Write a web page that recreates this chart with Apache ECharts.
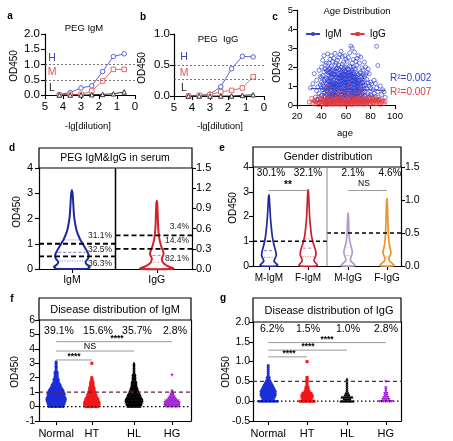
<!DOCTYPE html>
<html><head><meta charset="utf-8">
<script src="https://cdn.jsdelivr.net/npm/echarts@6/dist/echarts.min.js"></script>
<style>html,body{margin:0;padding:0;background:#fff}#c{width:453px;height:441px}</style>
</head><body><div id="c"></div>
<script>
// ---------- DATA ----------
const dilution = [4.2, 3.6, 3.0, 2.4, 1.8, 1.2, 0.6];
const igmH = [0.02, 0.08, 0.23, 0.30, 0.77, 1.26, 1.35];
const igmM = [0.00, 0.02, 0.02, 0.13, 0.46, 0.84, 0.84];
const igmL = [0.00, 0.00, 0.00, 0.01, 0.02, 0.04, 0.10];
const iggH = [0.00, 0.01, 0.03, 0.15, 0.44, 0.64, 0.63];
const iggM = [0.00, 0.01, 0.02, 0.07, 0.09, 0.13, 0.31];
const iggL = [0.00, 0.00, 0.00, 0.00, 0.00, 0.01, 0.02];
const igmCut = [1.0, 0.5];
const iggCut = [0.5, 0.27];

const ageIgM = [[31,0.9],[33,1.12],[34,1.65],[35,0.42],[36,0.75],[36,1.3],[37,0.28],[38,1.82],[38,0.6],[39,1.05],[39,0.35],[37,0.95],[35,0.18],[39,1.5],[38,0.12],
[40,0.5],[40,1.2],[40,2.0],[41,0.3],[41,0.8],[41,1.55],[42,0.65],[42,1.0],[42,2.6],[42,0.15],[43,0.4],[43,1.35],[43,1.9],[44,0.55],[44,0.9],[44,2.2],[44,0.22],[45,1.15],[45,0.7],[45,2.69],[45,1.6],[45,0.35],[41,1.1],[43,0.85],[44,1.4],[42,1.75],[40,0.9],[43,0.1],[45,0.05],[41,2.35],[44,1.8],[42,0.45],[40,1.45],[43,2.1],[45,1.0],
[46,0.6],[46,1.25],[46,1.9],[46,0.3],[47,0.45],[47,1.05],[47,1.7],[47,2.4],[48,0.8],[48,1.45],[48,0.2],[48,2.05],[49,0.55],[49,1.2],[49,1.85],[49,0.95],[50,0.4],[50,1.05],[50,1.6],[50,2.45],[50,0.7],[46,0.85],[47,1.4],[48,1.1],[49,0.25],[50,1.3],[46,2.2],[47,0.75],[48,0.5],[49,1.5],[50,0.15],[46,1.55],[47,0.1],[48,1.75],[49,2.3],[50,0.9],[47,1.95],[48,2.6],[49,0.65],[46,0.08],
[51,0.5],[51,1.15],[51,1.8],[51,2.72],[52,0.35],[52,0.95],[52,1.5],[52,2.2],[53,0.6],[53,1.3],[53,1.95],[53,0.2],[54,0.75],[54,1.05],[54,1.65],[54,2.5],[55,0.45],[55,1.2],[55,1.85],[55,0.9],[51,0.8],[52,1.25],[53,1.0],[54,0.3],[55,1.55],[51,1.45],[52,0.65],[53,2.35],[54,1.4],[55,0.12],[51,2.1],[52,1.75],[53,0.4],[54,1.9],[55,2.65],[52,0.08],[53,1.6],[54,0.55],[55,0.7],[51,0.25],
[56,0.55],[56,1.1],[56,1.7],[56,2.83],[57,0.4],[57,0.95],[57,1.45],[57,2.15],[58,0.65],[58,1.25],[58,1.9],[58,0.25],[59,0.8],[59,1.35],[59,2.6],[59,1.05],[60,0.5],[60,1.15],[60,1.75],[60,2.4],[56,0.85],[57,1.3],[58,1.0],[59,0.35],[60,0.9],[56,1.45],[57,0.7],[58,2.25],[59,1.6],[60,0.15],[56,2.0],[57,1.8],[58,0.45],[59,1.95],[60,1.4],[56,0.2],[57,2.55],[58,1.55],[59,0.6],[60,2.0],
[61,0.45],[61,1.05],[61,1.65],[61,2.3],[62,0.6],[62,1.2],[62,1.85],[62,0.3],[63,0.75],[63,1.4],[63,2.05],[63,2.75],[64,0.5],[64,1.0],[64,1.6],[64,3.1],[65,0.4],[65,0.95],[65,1.5],[65,3.0],[61,0.8],[62,0.95],[63,1.15],[64,0.25],[65,1.25],[61,1.35],[62,1.55],[63,0.5],[64,1.3],[65,2.2],[61,1.9],[62,2.5],[63,0.2],[64,2.0],[65,0.65],[62,0.1],[63,1.75],[64,0.8],[65,1.8],[61,0.15],
[66,0.5],[66,1.1],[66,1.7],[66,2.4],[67,0.35],[67,0.9],[67,1.45],[67,2.78],[68,0.6],[68,1.2],[68,1.9],[68,0.2],[69,0.7],[69,1.3],[69,2.1],[69,1.0],[70,0.45],[70,1.05],[70,1.6],[70,2.6],[66,0.85],[67,1.25],[68,1.5],[69,0.4],[70,0.8],[66,1.35],[67,0.6],[68,2.3],[69,1.65],[70,0.15],[66,2.0],[67,1.9],[68,0.95],[69,2.45],[70,1.3],
[71,0.5],[71,1.1],[71,1.7],[72,0.3],[72,0.85],[72,1.45],[72,2.52],[73,0.6],[73,1.2],[73,1.95],[74,0.4],[74,1.0],[74,1.6],[75,0.7],[75,1.3],[75,2.26],[71,2.2],[72,1.15],[73,0.25],[74,1.85],[75,0.5],[71,0.8],[73,1.5],[74,0.15],[75,1.0],
[76,0.45],[76,1.05],[76,1.6],[77,0.3],[77,0.85],[77,1.35],[78,0.6],[78,1.15],[78,1.9],[79,0.4],[79,1.0],[79,1.65],[80,0.55],[80,1.2],[76,2.0],[78,0.2],[80,0.9],[77,1.7],
[81,0.5],[81,1.1],[82,0.35],[82,0.8],[83,1.3],[83,0.6],[84,1.13],[84,0.45],[85,3.09],[85,0.9],[86,2.08],[86,0.7],[87,0.3],[88,1.0],[89,0.55],[90,0.8],[91,0.69],[92,0.4],
[42,1.3],[43,0.65],[44,1.1],[45,1.85],[46,1.05],[46,0.45],[47,1.25],[47,0.55],[48,1.3],[48,0.95],[49,0.4],[49,1.65],[50,1.8],[50,0.55],[51,0.95],[51,1.6],[52,1.05],[52,0.5],[52,1.9],[53,0.85],[53,1.45],[54,0.9],[54,1.25],[54,2.1],[55,1.05],[55,0.3],[55,1.4],[56,0.7],[56,1.25],[57,0.55],[57,1.1],[57,1.6],[58,0.85],[58,1.4],[58,1.7],[59,0.5],[59,1.2],[59,1.8],[60,0.7],[60,1.3],[60,1.0],[61,0.6],[61,1.2],[61,1.5],[62,0.8],[62,1.4],[62,1.05],[63,0.35],[63,0.95],[63,1.55],[64,0.65],[64,1.15],[64,1.45],[65,0.55],[65,1.1],[65,1.65],[66,0.65],[66,1.25],[66,0.3],[67,0.75],[67,1.1],[67,1.6],[68,0.45],[68,0.8],[68,1.35],[69,0.55],[69,1.15],[69,1.45],[70,0.6],[70,1.2],[71,0.65],[71,1.3],[72,0.55],[72,1.0],[73,0.8],[73,1.35],[74,0.65],[74,1.2],[75,0.85],[75,1.5],[44,0.75],[45,1.3],[46,1.7],[47,0.9],[48,1.6],[49,1.05],[50,1.15],[51,0.65],[53,1.15],[56,1.55],[58,1.15],[60,1.6],[62,1.7],[64,1.75],[66,1.5],[68,1.05],[70,0.95],[72,1.7]];

const ageIgG = [[30,0.15],[32,0.35],[33,0.08],[34,0.22],[35,0.05],[36,0.3],[37,0.12],[38,0.45],[38,0.02],[39,0.2],
[40,0.1],[40,0.32],[41,0.05],[41,0.18],[42,0.25],[42,0.4],[43,0.08],[43,0.15],[44,0.3],[44,0.02],[45,0.2],[45,0.55],[45,0.1],
[46,0.05],[46,0.28],[47,0.15],[47,0.38],[48,0.1],[48,0.22],[49,0.03],[49,0.3],[50,0.18],[50,0.45],[50,0.07],
[51,0.12],[51,0.26],[52,0.04],[52,0.2],[53,0.35],[53,0.1],[54,0.15],[54,0.5],[55,0.06],[55,0.25],[55,0.02],
[56,0.18],[56,0.33],[57,0.08],[57,0.22],[58,0.12],[58,0.42],[59,0.03],[59,0.27],[60,0.15],[60,0.6],[60,0.05],
[61,0.2],[61,0.1],[62,0.32],[62,0.04],[63,0.17],[63,0.48],[64,0.09],[64,0.25],[65,0.02],[65,0.35],[65,0.14],
[66,0.22],[66,0.06],[67,0.3],[67,0.12],[68,0.18],[68,0.55],[69,0.04],[69,0.28],[70,0.1],[70,0.38],[70,0.2],
[71,0.05],[71,0.25],[72,0.15],[72,0.45],[73,0.08],[73,0.3],[74,0.2],[74,0.03],[75,0.12],[75,0.35],
[76,0.18],[76,0.06],[77,0.28],[77,0.1],[78,0.22],[78,0.5],[79,0.04],[79,0.15],[80,0.3],[80,0.08],
[81,0.2],[82,0.12],[82,0.4],[83,0.05],[83,0.25],[84,0.15],[85,0.32],[85,0.07],[86,0.2],[87,0.1],[88,0.28],[88,0.03],[89,0.15],[90,0.22],[91,0.08],[92,0.18],
[44,0.12],[47,0.06],[49,0.16],[52,0.3],[54,0.08],[57,0.14],[59,0.2],[62,0.15],[64,0.4],[66,0.16],[68,0.08],[71,0.14],[73,0.2],[75,0.05],[77,0.16],[79,0.35],[84,0.26],[86,0.42],[46,0.9],[63,1.0],[55,0.75],[72,0.8]];
const fitIgM = [[31,0.87],[92,0.77]];
const fitIgG = [[31,0.20],[92,0.26]];
const r2Labels = ['R\u00b2=0.002', 'R\u00b2=0.007'];

// d: violins (value, relative width)
const dCats = ['IgM', 'IgG'];
const dIgMProfile = [[0,0.78],[0.02,0.89],[0.09,1.0],[0.18,0.82],[0.29,0.76],[0.42,0.9],[0.55,0.93],[0.7,0.84],[0.95,0.64],[1.2,0.44],[1.5,0.27],[1.8,0.18],[2.1,0.12],[2.6,0.075],[3.0,0.04],[3.12,0]];
const dIgGProfile = [[0,0.89],[0.01,0.92],[0.03,0.72],[0.06,0.5],[0.1,0.33],[0.16,0.28],[0.22,0.38],[0.27,0.34],[0.35,0.23],[0.45,0.14],[0.6,0.08],[0.8,0.05],[0.98,0.025],[1.01,0]];
const dIgMQuart = [0.32, 0.66, 1.15];
const dIgGQuart = [0.1, 0.2, 0.3];
const dIgMCut = [1.0, 0.5];
const dIgGCut = [0.5, 0.3];
const dIgMPct = ['31.1%', '32.5%', '36.3%'];
const dIgGPct = ['3.4%', '14.4%', '82.1%'];

// e: gender violins
const eCats = ['M-IgM', 'F-IgM', 'M-IgG', 'F-IgG'];
const eMIgM = [[0,0.85],[0.04,0.95],[0.1,0.78],[0.2,0.55],[0.3,0.66],[0.45,0.8],[0.65,0.7],[0.9,0.52],[1.2,0.37],[1.6,0.25],[2.0,0.16],[2.4,0.1],[2.8,0.04],[2.87,0]];
const eFIgM = [[0,0.9],[0.04,1.0],[0.1,0.86],[0.2,0.64],[0.3,0.7],[0.45,0.85],[0.65,0.8],[0.9,0.58],[1.2,0.38],[1.6,0.25],[2.0,0.16],[2.5,0.1],[3.0,0.04],[3.08,0]];
const eMIgG = [[0,0.68],[0.01,0.76],[0.03,0.65],[0.06,0.38],[0.1,0.24],[0.14,0.33],[0.2,0.46],[0.27,0.38],[0.35,0.22],[0.45,0.13],[0.6,0.08],[0.78,0.03],[0.8,0]];
const eFIgG = [[0,0.68],[0.01,0.76],[0.03,0.65],[0.06,0.38],[0.1,0.2],[0.14,0.27],[0.19,0.43],[0.25,0.38],[0.33,0.25],[0.45,0.17],[0.6,0.12],[0.8,0.08],[1.0,0.03],[1.02,0]];
const eQuart = [[0.35,0.62,1.0],[0.38,0.72,1.1],[0.06,0.16,0.28],[0.05,0.14,0.27]];
const ePct = ['30.1%', '32.1%', '2.1%', '4.6%'];
const eIgMCut = 1.0, eIgGCut = 0.5;
const eSig = ['**', 'NS'];

// f, g: beeswarm counts per bin
const diseaseCats = ['Normal', 'HT', 'HL', 'HG'];
const fStep = 0.1;
const fNormal = [8,8,9,9,10,10,10,9,9,9,8,8,7,6,5,5,4,3,3,3,2,2,2,2,2,1,1,1,1,1,1,1];
const fHT = [7,8,8,8,7,7,6,5,5,4,4,3,3,3,2,2,2,2,1,1,1,0,0,0,0,0,0,0,0,0,1];
const fHL = [7,8,8,9,9,9,8,7,7,6,5,5,4,4,3,3,3,3,2,2,2,2,2,1,1,1,1,1,1,1,1];
const fHG = [7,8,8,8,7,5,4,3,2,2,1,1,0,0,0,0,0,0,0,0,0,0,1];
const fPct = ['39.1%', '15.6%', '35.7%', '2.8%'];
const fSig = ['****', 'NS', '****'];
const gStep = 0.05;
const gNormal = [10,6,7,8,8,8,7,6,5,4,3,2,2,1,1,1,1,1,1];
const gHT = [8,5,6,6,5,3,2,2,1,1,1,1,1,0,0,0,0,0,0,0,1];
const gHL = [7,4,6,3,2,1,1,1,1,1,1,1];
const gHG = [7,4,3,2,2,1,1,1,0,0,1];
const gPct = ['6.2%', '1.5%', '1.0%', '2.8%'];
const gSig = ['****', '****', '****'];

// ---------- LAYOUT ----------
const FONT = 'Liberation Sans, Arial, sans-serif';
const dX = [0.43, 1.54];
const eX = [0.43, 1.49, 2.57, 3.62];
const fX = [0.45, 1.39, 2.5, 3.5];
const gX = [0.41, 1.46, 2.54, 3.59];

function ax(grid, min, max, interval, fs, margin, fmt, extra) {
  return Object.assign({
    type: 'value', gridIndex: grid, min, max, interval,
    axisLine: { show: true, onZero: false, lineStyle: { color: '#000', width: 1.2 } },
    axisTick: { show: true, length: 4, lineStyle: { color: '#000', width: 1.1 } },
    splitLine: { show: false },
    axisLabel: { color: '#000', fontFamily: FONT, fontSize: fs, margin, formatter: fmt }
  }, extra || {});
}
function catAx(grid, pos, names, fs, margin) {
  return ax(grid, 0, pos.length === 2 ? 2 : 4, 1, fs, margin, null, {
    axisTick: { show: true, length: 4, customValues: pos, lineStyle: { color: '#000', width: 1.1 } },
    axisLabel: { color: '#000', fontFamily: FONT, fontSize: fs, margin, customValues: pos,
      formatter: v => { let k = 0, b = 1e9; pos.forEach((p, i) => { if (Math.abs(p - v) < b) { b = Math.abs(p - v); k = i; } }); return names[k]; } }
  });
}
const f1 = v => v.toFixed(1);
const f0 = v => String(Math.round(v));
function border(grid, min, max) {
  return { type: 'value', gridIndex: grid, min, max, position: 'right',
    axisLine: { show: true, onZero: false, lineStyle: { color: '#000', width: 1.2 } },
    axisTick: { show: false }, axisLabel: { show: false }, splitLine: { show: false } };
}

function interp(prof, v) {
  for (let i = 0; i < prof.length - 1; i++) {
    if (v >= prof[i][0] && v <= prof[i + 1][0]) {
      const t = (v - prof[i][0]) / (prof[i + 1][0] - prof[i][0]);
      return prof[i][1] + t * (prof[i + 1][1] - prof[i][1]);
    }
  }
  return 0;
}
function violin(xi, yi, pos, profile, quart, color, maxHW, lw) {
  const prof = profile.slice().sort((a, b) => a[0] - b[0]);
  return {
    type: 'custom', xAxisIndex: xi, yAxisIndex: yi, silent: true, clip: false, z: 4,
    data: [[pos, 0]], encode: { x: 0, y: 1 },
    renderItem: function (params, api) {
      const right = [], left = [];
      prof.forEach(p => { const c = api.coord([pos, p[0]]); right.push([c[0] + p[1] * maxHW, c[1]]); });
      for (let i = prof.length - 1; i >= 0; i--) { const c = api.coord([pos, prof[i][0]]); left.push([c[0] - prof[i][1] * maxHW, c[1]]); }
      const kids = [{ type: 'polygon', shape: { points: right.concat(left), smooth: 0.2 },
        style: { fill: 'rgba(255,255,255,0)', stroke: color, lineWidth: lw, lineJoin: 'round' } }];
      quart.forEach((q, k) => {
        const w = interp(prof, q) * maxHW - lw; const c = api.coord([pos, q]);
        kids.push({ type: 'line', shape: { x1: c[0] - w, y1: c[1], x2: c[0] + w, y2: c[1] },
          style: { stroke: color, lineWidth: 0.8, lineDash: k === 1 ? [3, 2] : [1, 1.5], opacity: 0.75 } });
      });
      return { type: 'group', children: kids };
    }
  };
}
function marker(shape, x, y, r, color) {
  if (shape === 'rect') return { type: 'rect', shape: { x: x - r, y: y - r, width: 2 * r, height: 2 * r }, style: { fill: color } };
  if (shape === 'tri') return { type: 'polygon', shape: { points: [[x, y - r * 1.2], [x + r * 1.1, y + r * 0.8], [x - r * 1.1, y + r * 0.8]] }, style: { fill: color } };
  if (shape === 'itri') return { type: 'polygon', shape: { points: [[x, y + r * 1.2], [x + r * 1.1, y - r * 0.8], [x - r * 1.1, y - r * 0.8]] }, style: { fill: color } };
  return { type: 'circle', shape: { cx: x, cy: y, r }, style: { fill: color } };
}
function swarm(xi, yi, pos, step, counts, color, shape) {
  const data = counts.map((n, i) => [pos, +(i * step).toFixed(3), n]).filter(d => d[2] > 0);
  return {
    type: 'custom', xAxisIndex: xi, yAxisIndex: yi, silent: true, clip: false, z: 3,
    data, encode: { x: 0, y: 1 },
    renderItem: function (params, api) {
      const n = api.value(2); const c = api.coord([api.value(0), api.value(1)]);
      const kids = [];
      for (let i = 0; i < n; i++) kids.push(marker(shape, c[0] + (i - (n - 1) / 2) * 2, c[1], 1.5, color));
      return { type: 'group', children: kids };
    }
  };
}
function seg(xi, yi, pts, color, width, dash, z) {
  return { type: 'line', xAxisIndex: xi, yAxisIndex: yi, data: pts, symbol: 'none', silent: true, z: z || 5,
    lineStyle: { color, width, type: dash || 'solid' } };
}
function curve(xi, yi, ys, color, sym) {
  return { type: 'line', xAxisIndex: xi, yAxisIndex: yi, data: dilution.map((d, i) => [d, ys[i]]),
    symbol: sym, symbolSize: 4.5, showSymbol: true, silent: true,
    lineStyle: { color, width: 1 }, itemStyle: { color: '#fff', borderColor: color, borderWidth: 1 } };
}
function cutLines(vals) {
  return { silent: true, symbol: 'none', label: { show: false },
    lineStyle: { color: '#555', width: 0.8, type: [2, 2] }, data: vals.map(v => ({ yAxis: v })) };
}
function T(x, y, text, o) {
  o = o || {};
  return { type: 'text', x, y, rotation: o.rot || 0, silent: true, z: 10,
    style: { text, fill: o.color || '#000', fontFamily: FONT, fontSize: o.fs || 10, fontWeight: o.bold ? 'bold' : 'normal',
      align: o.align || 'center', verticalAlign: 'middle', textAlign: o.align || 'center', textVerticalAlign: 'middle' } };
}
function box(x, y, w, h) {
  return { type: 'rect', silent: true, shape: { x, y, width: w, height: h }, style: { fill: 'none', stroke: '#000', lineWidth: 1.2 } };
}

const blue = '#1c2a9e', red = '#d4202a';
const hC = '#5b64c8', mC = '#e2686a', lC = '#333';
const series = [];
// a
const sa = curve(0, 0, igmH, hC, 'circle'); sa.markLine = cutLines(igmCut); series.push(sa);
series.push(curve(0, 0, igmM, mC, 'rect'), curve(0, 0, igmL, lC, 'triangle'));
// b
const sb = curve(1, 1, iggH, hC, 'circle'); sb.markLine = cutLines(iggCut); series.push(sb);
series.push(curve(1, 1, iggM, mC, 'rect'), curve(1, 1, iggL, lC, 'triangle'));
// c
series.push({ type: 'scatter', name: 'IgM pts', xAxisIndex: 2, yAxisIndex: 2, data: ageIgM, symbol: 'circle', symbolSize: 4, silent: true,
  itemStyle: { color: 'rgba(0,0,0,0)', borderColor: '#2a3bd6', borderWidth: 0.8 } });
series.push({ type: 'scatter', name: 'IgG pts', xAxisIndex: 2, yAxisIndex: 2, data: ageIgG, symbol: 'rect', symbolSize: 3.5, silent: true,
  itemStyle: { color: 'rgba(0,0,0,0)', borderColor: '#e8383c', borderWidth: 0.8 } });
series.push({ type: 'line', name: 'IgM', xAxisIndex: 2, yAxisIndex: 2, data: fitIgM, symbol: 'circle', symbolSize: 4, showSymbol: false, silent: true,
  lineStyle: { color: '#3344c0', width: 1 }, itemStyle: { color: '#3344c0' } });
series.push({ type: 'line', name: 'IgG', xAxisIndex: 2, yAxisIndex: 2, data: fitIgG, symbol: 'rect', symbolSize: 4, showSymbol: false, silent: true,
  lineStyle: { color: '#e03a3a', width: 1 }, itemStyle: { color: '#e03a3a' } });
// d
series.push(violin(3, 3, dX[0], dIgMProfile, dIgMQuart, blue, 18, 2));
series.push(violin(3, 4, dX[1], dIgGProfile, dIgGQuart, red, 18, 2));
dIgMCut.forEach(v => series.push(seg(3, 3, [[0, v], [1, v]], '#000', 1.8, [5, 3])));
dIgGCut.forEach(v => series.push(seg(3, 4, [[1, v], [2, v]], '#000', 1.8, [5, 3])));
series.push(seg(3, 3, [[1, 0], [1, 4]], '#000', 1.5));
// e
series.push(violin(4, 5, eX[0], eMIgM, eQuart[0], blue, 9.2, 1.7));
series.push(violin(4, 5, eX[1], eFIgM, eQuart[1], '#cc1f2f', 9.2, 1.7));
series.push(violin(4, 6, eX[2], eMIgG, eQuart[2], '#b49bcc', 9.2, 1.7));
series.push(violin(4, 6, eX[3], eFIgG, eQuart[3], '#e8952e', 9.2, 1.7));
series.push(seg(4, 5, [[0, eIgMCut], [2, eIgMCut]], '#000', 1.4, [4, 3]));
series.push(seg(4, 6, [[2, eIgGCut], [4, eIgGCut]], '#000', 1.4, [4, 3]));
series.push(seg(4, 5, [[2, 0], [2, 4]], '#888', 1));
series.push(seg(4, 5, [[eX[0], 3.05], [eX[1], 3.05]], '#999', 1));
series.push(seg(4, 5, [[eX[2], 3.05], [eX[3], 3.05]], '#999', 1));
// f
const swarmColors = ['#1a2fd8', '#f01818', '#000', '#a626d6'];
const swarmShapes = ['circle', 'rect', 'tri', 'itri'];
[fNormal, fHT, fHL, fHG].forEach((c, i) => series.push(swarm(5, 7, fX[i], fStep, c, swarmColors[i], swarmShapes[i])));
series.push(seg(5, 7, [[0, 1], [4, 1]], '#6e1f45', 1.2, [4, 3], 6));
series.push(seg(5, 7, [[0, 0], [4, 0]], '#000', 1.2, [1.5, 2.5], 6));
series.push(seg(5, 7, [[fX[0], 4.5], [fX[3], 4.5]], '#999', 1));
series.push(seg(5, 7, [[fX[0], 3.85], [fX[2], 3.85]], '#999', 1));
series.push(seg(5, 7, [[fX[0], 3.23], [fX[1], 3.23]], '#999', 1));
// g
[gNormal, gHT, gHL, gHG].forEach((c, i) => series.push(swarm(6, 9, gX[i], gStep, c, swarmColors[i], swarmShapes[i])));
series.push(seg(6, 9, [[0, 0.5], [4, 0.5]], '#6e1f45', 1.2, [4, 3], 6));
series.push(seg(6, 9, [[0, 0], [4, 0]], '#000', 1.2, [1.5, 2.5], 6));
series.push(seg(6, 9, [[gX[0], 1.48], [gX[3], 1.48]], '#999', 1));
series.push(seg(6, 9, [[gX[0], 1.29], [gX[2], 1.29]], '#999', 1));
series.push(seg(6, 9, [[gX[0], 1.12], [gX[1], 1.12]], '#999', 1));

const graphic = [
  T(10, 16, 'a', { bold: true }), T(143, 17, 'b', { bold: true }), T(275, 17, 'c', { bold: true }),
  T(12, 148, 'd', { bold: true }), T(222, 148, 'e', { bold: true }), T(12, 299, 'f', { bold: true }), T(223, 298, 'g', { bold: true }),
  // a
  T(84, 28, 'PEG IgM', { fs: 9.5 }), T(52, 58, 'H', { color: '#3844b8', fs: 10.5 }), T(52, 72, 'M', { color: '#e05555', fs: 10.5 }), T(52, 88, 'L', { color: '#222', fs: 10.5 }),
  T(14, 66, 'OD450', { rot: Math.PI / 2 }), T(88, 126, '-lg[dilution]', { fs: 9.5 }),
  // b
  T(218, 39, 'PEG  IgG', { fs: 9.5 }), T(184, 57, 'H', { color: '#3844b8', fs: 10.5 }), T(184, 73, 'M', { color: '#e05555', fs: 10.5 }), T(184, 88, 'L', { color: '#222', fs: 10.5 }),
  T(142, 68, 'OD450', { rot: Math.PI / 2 }), T(220, 126, '-lg[dilution]', { fs: 9.5 }),
  // c
  T(357, 11, 'Age Distribution', { fs: 9.5 }), T(277, 67, 'OD450', { rot: Math.PI / 2 }), T(345, 133, 'age', { fs: 9.5 }),
  T(390, 78, r2Labels[0], { align: 'left', color: '#3040c8' }), T(390, 92, r2Labels[1], { align: 'left', color: '#e03a3a' }),
  // d
  box(39, 148, 153, 20), T(115, 158, 'PEG IgM&IgG in serum', { fs: 10.5 }), T(17, 212, 'OD450', { rot: Math.PI / 2 }),
  T(112, 236, dIgMPct[0], { align: 'right', fs: 8.5, color: '#222' }), T(112, 250, dIgMPct[1], { align: 'right', fs: 8.5, color: '#222' }), T(112, 264, dIgMPct[2], { align: 'right', fs: 8.5, color: '#222' }),
  T(189, 227, dIgGPct[0], { align: 'right', fs: 8.5, color: '#222' }), T(189, 241, dIgGPct[1], { align: 'right', fs: 8.5, color: '#222' }), T(189, 259, dIgGPct[2], { align: 'right', fs: 8.5, color: '#222' }),
  // e
  box(253, 147, 148, 20), T(328, 157, 'Gender distribution', { fs: 10.5 }), T(233, 208, 'OD450', { rot: Math.PI / 2 }),
  T(271, 173, ePct[0]), T(308, 173, ePct[1]), T(353, 173, ePct[2]), T(390, 173, ePct[3]),
  T(288, 185, eSig[0], { bold: true, fs: 10 }), T(364, 184, eSig[1], { fs: 8.5 }),
  // f
  box(39, 298, 152, 22), T(115, 310, 'Disease distribution of IgM', { fs: 11 }), T(15, 372, 'OD450', { rot: Math.PI / 2 }),
  T(59, 331, fPct[0], { fs: 10.5 }), T(98, 331, fPct[1], { fs: 10.5 }), T(137, 331, fPct[2], { fs: 10.5 }), T(175, 331, fPct[3], { fs: 10.5 }),
  T(117, 338.5, fSig[0], { fs: 8.5, bold: true }), T(90, 346.5, fSig[1], { fs: 9 }), T(74, 357, fSig[2], { fs: 8.5, bold: true }),
  // g
  box(253, 298, 148, 24), T(329, 311, 'Disease distribution of IgG', { fs: 11 }), T(226, 372, 'OD450', { rot: Math.PI / 2 }),
  T(272, 329, gPct[0], { fs: 10.5 }), T(308, 329, gPct[1], { fs: 10.5 }), T(348, 329, gPct[2], { fs: 10.5 }), T(386, 329, gPct[3], { fs: 10.5 }),
  T(327, 340, gSig[0], { fs: 8.5, bold: true }), T(308, 347, gSig[1], { fs: 8.5, bold: true }), T(289, 353.5, gSig[2], { fs: 8.5, bold: true })
];

const option = {
  animation: false,
  backgroundColor: '#fff',
  legend: { left: 300, top: 24, itemWidth: 14, itemHeight: 5, itemGap: 8, selectedMode: false, data: ['IgM', 'IgG'],
    textStyle: { fontSize: 10, fontFamily: FONT, color: '#000' } },
  grid: [
    { left: 45, top: 34, width: 90, height: 61 },
    { left: 174, top: 34, width: 90, height: 62 },
    { left: 297, top: 10, width: 98, height: 95 },
    { left: 39, top: 168, width: 153, height: 101 },
    { left: 253, top: 167, width: 148, height: 99 },
    { left: 39, top: 320, width: 152, height: 101 },
    { left: 253, top: 322, width: 148, height: 99 }
  ],
  xAxis: [
    ax(0, 0, 5, 1, 11.5, 6, f0, { inverse: true }),
    ax(1, 0, 5, 1, 11.5, 6, f0, { inverse: true }),
    ax(2, 20, 100, 20, 9.5, 6, f0),
    catAx(3, dX, dCats, 10.5, 6),
    catAx(4, eX, eCats, 10, 7),
    catAx(5, fX, diseaseCats, 11, 7),
    catAx(6, gX, diseaseCats, 11, 7)
  ],
  yAxis: [
    ax(0, 0, 2, 0.5, 11.5, 5, f1),
    ax(1, 0, 1, 0.5, 11.5, 4, f1),
    ax(2, 0, 5, 1, 9.5, 4, f0),
    ax(3, 0, 4, 1, 11, 6, f0),
    ax(3, 0, 1.5, 0.3, 11, 4, f1, { position: 'right' }),
    ax(4, 0, 4, 1, 10.5, 4, f0),
    ax(4, 0, 1.5, 0.5, 10.5, 4, f1, { position: 'right' }),
    ax(5, -1, 6, 1, 10.5, 4, f0),
    border(5, -1, 6),
    ax(6, -0.5, 2, 0.5, 10.5, 3, f1),
    border(6, -0.5, 2)
  ],
  series,
  graphic
};
const chart = echarts.init(document.getElementById('c'));
chart.setOption(option);
</script></body></html>
